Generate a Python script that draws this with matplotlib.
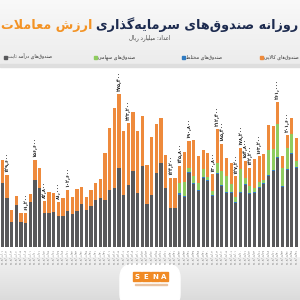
import numpy as np
import matplotlib.pyplot as plt
from matplotlib.patches import Rectangle, FancyBboxPatch

# daily trading value of investment funds (thousand billion rial)
fixed_income = [115.2, 88.2, 45.0, 75.6, 45.0, 43.2, 81.0, 120.6, 106.2, 61.2,
                61.2, 63.0, 55.8, 55.8, 64.8, 59.4, 64.8, 77.4, 66.6, 73.8,
                84.6, 88.2, 84.6, 102.6, 106.2, 142.2, 93.6, 111.6, 136.8, 97.2,
                145.8, 77.4, 93.6, 133.2, 151.2, 106.2, 70.2, 70.2, 93.6, 90.0,
                133.2, 113.4, 100.8, 124.2, 118.8, 91.8, 131.4, 109.8, 97.2, 97.2,
                79.2, 97.2, 111.6, 95.4, 97.2, 106.2, 113.4, 127.8, 136.8, 160.2,
                108.0, 138.6, 167.4, 142.2, 97.2]
mixed = [0] * 38 + [3.6, 1.8, 1.8, 1.8, 1.8, 1.8, 1.2, 1.2, 1.8, 1.8,
                    1.8, 1.8, 1.2, 1.8, 1.8, 1.8, 1.2, 1.2, 1.2, 1.8,
                    1.8, 1.8, 1.8, 1.8, 1.8, 1.8, 1.8]
equity = [0] * 38 + [18.0, 25.2, 7.2, 12.6, 12.6, 14.4, 5.4, 7.2, 18.0, 25.2,
                     28.8, 14.4, 9.0, 41.4, 10.8, 12.6, 7.2, 9.0, 5.4, 45.0,
                     37.8, 59.4, 32.4, 37.8, 34.2, 10.8, 14.4]
commodity = [41.4, 41.4, 21.6, 16.2, 16.2, 18.0, 14.4, 36.0, 36.0, 21.6,
             37.8, 34.2, 25.2, 32.4, 37.8, 30.6, 39.6, 30.6, 23.4, 28.8,
             30.6, 34.2, 84.6, 111.6, 144.0, 133.2, 115.2, 111.6, 106.2, 111.6,
             90.0, 70.2, 104.4, 88.2, 81.0, 59.4, 54.0, 54.0, 30.6, 54.0,
             48.6, 64.8, 48.6, 34.2, 43.2, 30.6, 61.2, 48.6, 32.4, 37.8,
             37.8, 37.8, 30.6, 32.4, 52.2, 46.8, 46.8, 45.0, 41.4, 39.6,
             21.6, 23.4, 28.8, 41.4, 54.0]
labeled = [1, 5, 7, 9, 12, 14, 25, 27, 36, 38, 40, 45, 46, 47, 50, 51, 52, 53, 55, 59, 61]

series_names = ['صندوق‌های درآمد ثابت', 'صندوق‌های سهامی', 'صندوق‌های مختلط', 'صندوق‌های کالایی']
title_orange = 'ارزش معاملات'
title_navy = 'روزانه صندوق‌های سرمایه‌گذاری'
subtitle = 'اعداد: میلیارد ریال'

C_GREY = '#58585a'
C_BLUE = '#2f7bc1'
C_GREEN = '#8fcb5f'
C_ORANGE = '#ee8a3c'
C_NAVY = '#1d2b4f'

# matplotlib has no arabic shaping, so pick presentation forms by hand
FORMS = {
    'ا': ('\uFE8D', '\uFE8E', None, None), 'آ': ('\uFE81', '\uFE82', None, None),
    'ب': ('\uFE8F', '\uFE90', '\uFE91', '\uFE92'), 'ت': ('\uFE95', '\uFE96', '\uFE97', '\uFE98'),
    'ث': ('\uFE99', '\uFE9A', '\uFE9B', '\uFE9C'), 'خ': ('\uFEA5', '\uFEA6', '\uFEA7', '\uFEA8'),
    'د': ('\uFEA9', '\uFEAA', None, None), 'ذ': ('\uFEAB', '\uFEAC', None, None),
    'ر': ('\uFEAD', '\uFEAE', None, None), 'ز': ('\uFEAF', '\uFEB0', None, None),
    'س': ('\uFEB1', '\uFEB2', '\uFEB3', '\uFEB4'), 'ش': ('\uFEB5', '\uFEB6', '\uFEB7', '\uFEB8'),
    'ص': ('\uFEB9', '\uFEBA', '\uFEBB', '\uFEBC'), 'ط': ('\uFEC1', '\uFEC2', '\uFEC3', '\uFEC4'),
    'ع': ('\uFEC9', '\uFECA', '\uFECB', '\uFECC'), 'ق': ('\uFED5', '\uFED6', '\uFED7', '\uFED8'),
    'ل': ('\uFEDD', '\uFEDE', '\uFEDF', '\uFEE0'), 'م': ('\uFEE1', '\uFEE2', '\uFEE3', '\uFEE4'),
    'ن': ('\uFEE5', '\uFEE6', '\uFEE7', '\uFEE8'), 'ه': ('\uFEE9', '\uFEEA', '\uFEEB', '\uFEEC'),
    'و': ('\uFEED', '\uFEEE', None, None), 'ک': ('\uFB8E', '\uFB8F', '\uFB90', '\uFB91'),
    'گ': ('\uFB92', '\uFB93', '\uFB94', '\uFB95'), 'ی': ('\uFBFC', '\uFBFD', '\uFBFE', '\uFBFF'),
}


def joins_left(ch):
    return ch in FORMS and FORMS[ch][2] is not None


def fa(text):
    out = []
    i = 0
    while i < len(text):
        ch = text[i]
        prev = text[i - 1] if i > 0 else ' '
        if ch not in FORMS:
            if ch != '\u200c':
                out.append(ch)
            i += 1
            continue
        jp = joins_left(prev)
        if ch == 'ل' and i + 1 < len(text) and text[i + 1] in 'اآ':
            out.append('\uFEFC' if jp else '\uFEFB')
            i += 2
            continue
        nxt = text[i + 1] if i + 1 < len(text) else ' '
        jn = joins_left(ch) and nxt in FORMS
        iso, fin, ini, med = FORMS[ch]
        if jp and jn:
            out.append(med)
        elif jp:
            out.append(fin)
        elif jn:
            out.append(ini)
        else:
            out.append(iso)
        i += 1
    return ''.join(out[::-1])


def fa_digits(s):
    return s.translate(str.maketrans('0123456789', '۰۱۲۳۴۵۶۷۸۹'))


def vgrad(top, bottom, steps=100):
    t = np.linspace(0, 1, steps)[:, None, None]
    return (1 - t) * np.array(top)[None, None, :] + t * np.array(bottom)[None, None, :]


n = len(fixed_income)
x = np.arange(n)
fixed_income = np.array(fixed_income)
mixed = np.array(mixed)
equity = np.array(equity)
commodity = np.array(commodity)
total = fixed_income + mixed + equity + commodity

dates = []
m, d = 6, 1
for k in range(n):
    dates.append(fa_digits(f'1402/{m:02d}/{d:02d}'))
    d += 1 if k % 5 != 4 else 3
    if d > 31:
        m, d = m + 1, d - 31

fig = plt.figure(figsize=(3, 3), dpi=100)
plt.rcParams['font.family'] = ['DejaVu Sans']

# background
bg = fig.add_axes([0, 0, 1, 1], zorder=-10)
bg.axis('off')
bg.imshow(vgrad([0.975, 0.975, 0.975], [0.925, 0.925, 0.925]), extent=(0, 300, 66, 0),
          aspect='auto')
bg.imshow(vgrad([0.95, 0.95, 0.95], [0.86, 0.86, 0.86]), extent=(0, 300, 300, 255),
          aspect='auto')
bg.add_patch(Rectangle((0, 67), 300, 189, color='white'))
bg.add_patch(Rectangle((0, 64), 300, 3, color='#dedede'))
bg.add_patch(FancyBboxPatch((120, 264), 60, 44, boxstyle='round,pad=0,rounding_size=14',
                            color='white'))
bg.set_xlim(0, 300)
bg.set_ylim(300, 0)

# logo
for k, ch in enumerate('SENA'):
    bg.add_patch(Rectangle((133 + k * 9, 272), 8, 9, color='#f08a24'))
    bg.text(137 + k * 9, 276.7, ch, color='white', fontsize=5, fontweight='bold',
            ha='center', va='center')
bg.add_patch(Rectangle((135, 284), 32, 1.0, color='#e9c3a2'))

# title: navy part flush right, orange part placed just left of it
t_navy = bg.text(298, 25, fa(title_navy), color=C_NAVY, fontsize=9.2, fontweight='bold',
                 ha='right', va='center')
fig.canvas.draw()
left_px = t_navy.get_window_extent().x0
left_data = bg.transData.inverted().transform((left_px, 0))[0]
bg.text(left_data - 3, 25, fa(title_orange), color='#f39325', fontsize=9.2,
        fontweight='bold', ha='right', va='center')
bg.text(150, 38, fa(subtitle), color='#444444', fontsize=4, ha='center', va='center')

# legend
legend_items = [(series_names[3], C_ORANGE, 260), (series_names[2], C_BLUE, 182),
                (series_names[1], C_GREEN, 94), (series_names[0], C_GREY, 4)]
for name, col, lx in legend_items:
    bg.add_patch(Rectangle((lx, 55.5), 3.2, 3.2, color=col))
    bg.text(lx + 4.5, 57.2, fa(name), color='#333333', fontsize=3.4, ha='left', va='center')

ax = fig.add_axes([0, 53 / 300, 1, 177 / 300])
w = 0.68
ax.bar(x, fixed_income, w, color=C_GREY)
ax.bar(x, mixed, w, bottom=fixed_income, color=C_BLUE)
ax.bar(x, equity, w, bottom=fixed_income + mixed, color=C_GREEN)
ax.bar(x, commodity, w, bottom=fixed_income + mixed + equity, color=C_ORANGE)
for i in labeled:
    ax.text(i, total[i] + 5, fa_digits(f'{round(total[i] * 1000):,}'), rotation=90,
            ha='center', va='bottom', fontsize=3.6, fontweight='bold', color='#222222')
ax.set_xlim(-0.49, 63.75)
ax.set_ylim(0, 318.6)
ax.set_xticks(x[:-1])
ax.set_xticklabels(dates[:-1], rotation=90, fontsize=2.2, color='#666666')
ax.tick_params(axis='x', length=0, pad=1.5)
ax.set_yticks([])
for s in ax.spines.values():
    s.set_visible(False)
ax.patch.set_alpha(0)

fig.savefig('out.png', dpi=100)
